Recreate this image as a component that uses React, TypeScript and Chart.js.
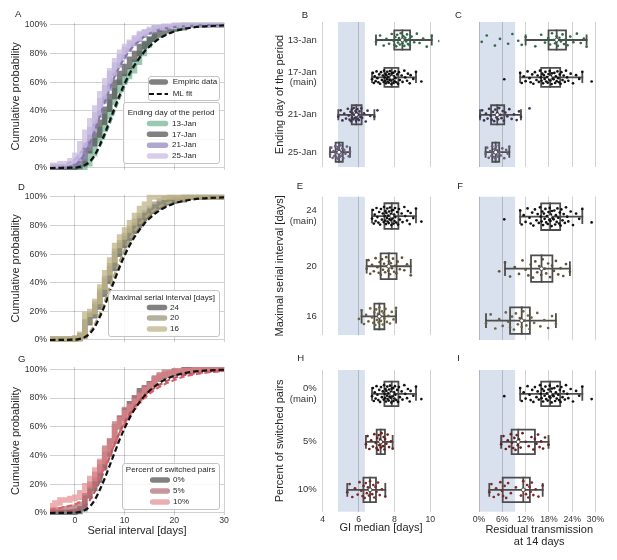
import React, { useEffect, useRef } from "react";
import { Chart, registerables } from "chart.js";

Chart.register(...registerables);

const FONT = '"Liberation Sans", Arial, Helvetica, sans-serif';
Chart.defaults.font.family = FONT;
Chart.defaults.color = "#333";

// ------------------------------------------------------------------ DATA
const serialTicks = [0, 10, 20, 30];
const probTicks = [0, 0.2, 0.4, 0.6, 0.8, 1];
const giTicks = [4, 6, 8, 10];
const residTicks = [0, 6, 12, 18, 24, 30];

const periodCats = [["13-Jan"], ["17-Jan", "(main)"], ["21-Jan"], ["25-Jan"]];
const maxSiCats = [["24", "(main)"], ["20"], ["16"]];
const switchCats = [["0%", "(main)"], ["5%"], ["10%"]];

const periodLegend = ["13-Jan", "17-Jan", "21-Jan", "25-Jan"];
const maxSiLegend = ["24", "20", "16"];
const switchLegend = ["0%", "5%", "10%"];

// empirical CDFs [serial interval, cumulative probability]
const empJan13 = [[-5, 0], [2, 0], [3, 0.03], [4, 0.1], [5, 0.19], [6, 0.27], [7, 0.36], [8, 0.46], [9, 0.54], [10, 0.6], [11, 0.64], [12, 0.68], [13, 0.74], [14, 0.8], [15, 0.86], [16, 0.9], [17, 0.97], [21, 0.98], [22, 1], [30, 1]];
const empJan17 = [[-5, 0], [0, 0.005], [1, 0.01], [2, 0.03], [3, 0.12], [4, 0.17], [5, 0.23], [6, 0.32], [7, 0.41], [8, 0.5], [9, 0.6], [10, 0.66], [11, 0.71], [12, 0.76], [13, 0.8], [14, 0.85], [15, 0.87], [16, 0.9], [17, 0.93], [18, 0.95], [19, 0.96], [20, 0.97], [22, 0.98], [24, 1], [30, 1]];
const empJan21 = [[-5, 0], [-1, 0.01], [0, 0.02], [1, 0.04], [2, 0.08], [3, 0.16], [4, 0.27], [5, 0.37], [6, 0.47], [7, 0.56], [8, 0.66], [9, 0.72], [10, 0.78], [11, 0.83], [12, 0.87], [13, 0.9], [14, 0.93], [15, 0.95], [16, 0.96], [18, 0.98], [20, 0.99], [23, 1], [30, 1]];
const empJan25 = [[-5, 0.01], [-3, 0.02], [-1, 0.03], [0, 0.05], [1, 0.09], [2, 0.17], [3, 0.25], [4, 0.33], [5, 0.42], [6, 0.52], [7, 0.61], [8, 0.68], [9, 0.75], [10, 0.81], [11, 0.85], [12, 0.88], [13, 0.91], [14, 0.94], [15, 0.95], [16, 0.97], [18, 0.98], [20, 0.99], [22, 1], [30, 1]];

// ML fits
const fitJan13 = [[-5, 0], [0, 0.002], [2, 0.015], [3, 0.04], [4, 0.085], [5, 0.15], [6, 0.225], [7, 0.31], [8, 0.4], [9, 0.49], [10, 0.57], [11, 0.645], [12, 0.71], [13, 0.765], [14, 0.81], [15, 0.85], [16, 0.885], [18, 0.93], [20, 0.958], [22, 0.975], [25, 0.99], [30, 0.998]];
const fitJan17 = [[-5, 0], [0, 0.003], [1, 0.008], [2, 0.02], [3, 0.045], [4, 0.09], [5, 0.16], [6, 0.24], [7, 0.33], [8, 0.42], [9, 0.51], [10, 0.59], [11, 0.66], [12, 0.72], [13, 0.77], [14, 0.815], [15, 0.85], [16, 0.88], [17, 0.905], [18, 0.925], [20, 0.955], [22, 0.973], [25, 0.988], [30, 0.997]];
const fitJan21 = [[-5, 0], [-2, 0.005], [0, 0.02], [1, 0.05], [2, 0.1], [3, 0.17], [4, 0.26], [5, 0.36], [6, 0.46], [7, 0.55], [8, 0.64], [9, 0.71], [10, 0.77], [11, 0.82], [12, 0.86], [13, 0.89], [14, 0.92], [16, 0.955], [18, 0.975], [20, 0.986], [25, 0.997], [30, 1]];
const fitJan25 = [[-5, 0.005], [-3, 0.015], [-1, 0.04], [0, 0.06], [1, 0.1], [2, 0.15], [3, 0.22], [4, 0.3], [5, 0.39], [6, 0.49], [7, 0.58], [8, 0.66], [9, 0.73], [10, 0.79], [11, 0.84], [12, 0.87], [13, 0.9], [14, 0.925], [16, 0.96], [18, 0.978], [20, 0.988], [25, 0.997], [30, 1]];

const empMax20 = [[-5, 0], [0, 0.005], [1, 0.01], [2, 0.03], [3, 0.13], [4, 0.18], [5, 0.25], [6, 0.34], [7, 0.43], [8, 0.52], [9, 0.62], [10, 0.68], [11, 0.73], [12, 0.78], [13, 0.83], [14, 0.87], [15, 0.89], [16, 0.92], [17, 0.95], [18, 0.97], [19, 0.99], [20, 1], [30, 1]];
const empMax16 = [[-5, 0], [0, 0.005], [1, 0.01], [2, 0.04], [3, 0.18], [4, 0.2], [5, 0.27], [6, 0.37], [7, 0.47], [8, 0.56], [9, 0.66], [10, 0.72], [11, 0.77], [12, 0.82], [13, 0.87], [14, 0.92], [15, 0.95], [16, 1], [30, 1]];
const fitMax20 = [[-5, 0], [0, 0.003], [2, 0.02], [3, 0.05], [4, 0.1], [5, 0.17], [6, 0.26], [7, 0.35], [8, 0.44], [9, 0.53], [10, 0.61], [11, 0.68], [12, 0.74], [13, 0.79], [14, 0.835], [15, 0.87], [16, 0.9], [18, 0.94], [20, 0.965], [22, 0.98], [25, 0.992], [30, 0.998]];
const fitMax16 = [[-5, 0], [0, 0.004], [2, 0.025], [3, 0.055], [4, 0.11], [5, 0.18], [6, 0.27], [7, 0.37], [8, 0.46], [9, 0.55], [10, 0.63], [11, 0.7], [12, 0.76], [13, 0.81], [14, 0.85], [15, 0.885], [16, 0.91], [18, 0.95], [20, 0.97], [22, 0.983], [25, 0.993], [30, 0.998]];

const empSwitch5 = [[-5, 0.01], [-2, 0.02], [0, 0.03], [1, 0.04], [2, 0.06], [3, 0.12], [4, 0.2], [5, 0.27], [6, 0.35], [7, 0.45], [8, 0.5], [9, 0.62], [10, 0.66], [11, 0.72], [12, 0.76], [13, 0.8], [14, 0.84], [15, 0.87], [16, 0.9], [17, 0.94], [18, 0.96], [20, 0.98], [22, 0.99], [25, 1], [30, 1]];
const empSwitch10 = [[-5, 0.03], [-4, 0.05], [-3, 0.07], [-1, 0.09], [0, 0.1], [1, 0.11], [2, 0.14], [3, 0.19], [4, 0.24], [5, 0.3], [6, 0.36], [7, 0.44], [8, 0.5], [9, 0.6], [10, 0.65], [11, 0.7], [12, 0.74], [13, 0.78], [14, 0.82], [15, 0.86], [16, 0.89], [17, 0.93], [19, 0.96], [21, 0.98], [24, 0.99], [27, 1], [30, 1]];
const fitSwitch5 = [[-5, 0.005], [-2, 0.012], [0, 0.02], [1, 0.03], [2, 0.05], [3, 0.09], [4, 0.15], [5, 0.22], [6, 0.3], [7, 0.39], [8, 0.48], [9, 0.56], [10, 0.63], [11, 0.69], [12, 0.74], [13, 0.78], [14, 0.82], [15, 0.85], [16, 0.87], [18, 0.91], [20, 0.94], [22, 0.96], [25, 0.975], [30, 0.99]];
const fitSwitch10 = [[-5, 0.02], [-3, 0.035], [-1, 0.05], [0, 0.06], [1, 0.075], [2, 0.1], [3, 0.14], [4, 0.19], [5, 0.25], [6, 0.32], [7, 0.4], [8, 0.48], [9, 0.56], [10, 0.62], [11, 0.68], [12, 0.73], [13, 0.77], [14, 0.8], [15, 0.83], [16, 0.855], [18, 0.895], [20, 0.925], [22, 0.95], [25, 0.97], [30, 0.99]];

// box statistics [whisker low, q1, median, q3, whisker high]
const giPeriodStats = [[6.97, 7.99, 8.44, 8.87, 10.08], [6.75, 7.44, 7.85, 8.22, 9.2], [4.87, 5.62, 5.87, 6.17, 6.88], [4.41, 4.72, 4.91, 5.12, 5.52]];
const residPeriodStats = [[12.0, 17.9, 20.0, 22.4, 27.7], [10.6, 16.0, 18.3, 20.9, 26.6], [0.26, 3.1, 4.7, 6.5, 10.8], [1.7, 3.4, 4.3, 5.2, 7.8]];
const giMaxStats = [[6.75, 7.44, 7.85, 8.22, 9.2], [6.45, 7.23, 7.68, 8.12, 8.91], [6.17, 6.88, 7.16, 7.44, 8.09]];
const residMaxStats = [[10.6, 16.0, 18.3, 20.9, 26.6], [6.7, 13.4, 16.1, 18.9, 23.4], [1.8, 8.0, 11.0, 13.1, 19.8]];
const giSwitchStats = [[6.75, 7.44, 7.85, 8.22, 9.2], [6.41, 7.01, 7.23, 7.47, 7.9], [5.37, 6.27, 6.64, 6.97, 7.49]];
const residSwitchStats = [[10.6, 16.0, 18.3, 20.9, 26.6], [5.7, 8.4, 10.1, 14.4, 17.9], [2.65, 6.1, 11.4, 13.1, 16.4]];

// individual bootstrap estimates (strip points)
const giMainPts = [6.75, 6.8, 6.85, 6.9, 6.95, 7.0, 7.05, 7.1, 7.15, 7.2, 7.25, 7.3, 7.35, 7.4, 7.42, 7.45, 7.48, 7.5, 7.53, 7.55, 7.58, 7.6, 7.62, 7.65, 7.68, 7.7, 7.72, 7.75, 7.78, 7.8, 7.83, 7.85, 7.88, 7.9, 7.93, 7.95, 7.98, 8.0, 8.03, 8.05, 8.1, 8.15, 8.2, 8.25, 8.3, 8.4, 8.45, 8.55, 8.6, 8.7, 8.75, 8.85, 8.9, 9.05, 9.2, 9.5];
const residMainPts = [6.5, 10.6, 11.0, 11.5, 12.0, 12.5, 13.0, 13.3, 13.7, 14.0, 14.4, 14.8, 15.1, 15.4, 15.7, 15.9, 16.1, 16.3, 16.5, 16.7, 16.9, 17.1, 17.3, 17.5, 17.7, 17.9, 18.1, 18.2, 18.4, 18.5, 18.7, 18.8, 19.0, 19.2, 19.4, 19.6, 19.8, 20.0, 20.2, 20.4, 20.6, 20.8, 21.0, 21.2, 21.5, 21.8, 22.1, 22.4, 22.7, 23.0, 23.6, 24.2, 25.0, 25.8, 26.6, 29.0];
const giJan13Pts = [6.97, 7.2, 7.4, 7.55, 7.7, 7.85, 7.95, 8.0, 8.05, 8.1, 8.15, 8.2, 8.25, 8.3, 8.35, 8.4, 8.45, 8.5, 8.55, 8.6, 8.65, 8.7, 8.75, 8.8, 8.85, 8.95, 9.1, 9.25, 9.4, 9.6, 9.8, 10.08, 10.5];
const giJan21Pts = [4.87, 5.0, 5.1, 5.2, 5.3, 5.4, 5.45, 5.5, 5.55, 5.58, 5.62, 5.64, 5.66, 5.7, 5.73, 5.76, 5.8, 5.83, 5.86, 5.88, 5.9, 5.93, 5.96, 6.0, 6.02, 6.05, 6.1, 6.15, 6.2, 6.3, 6.4, 6.5, 6.65, 6.88, 7.05];
const giJan25Pts = [4.41, 4.48, 4.55, 4.6, 4.65, 4.7, 4.73, 4.76, 4.8, 4.83, 4.86, 4.9, 4.93, 4.96, 5.0, 5.03, 5.06, 5.1, 5.14, 5.2, 5.27, 5.35, 5.45, 5.52];
const residJan13Pts = [0.7, 2.0, 4.1, 5.4, 7.5, 8.6, 10.1, 11.0, 12.0, 14.5, 16.0, 17.0, 17.8, 18.3, 18.8, 19.2, 19.6, 20.0, 20.3, 20.7, 21.1, 21.5, 21.9, 22.3, 22.8, 23.5, 24.3, 25.2, 26.2, 27.0, 27.7];
const residJan21Pts = [0.26, 0.8, 1.3, 1.8, 2.2, 2.6, 3.0, 3.3, 3.6, 3.9, 4.2, 4.5, 4.7, 4.9, 5.2, 5.5, 5.8, 6.1, 6.4, 6.8, 7.3, 7.8, 8.4, 9.0, 9.7, 10.3, 10.8, 13.0];
const residJan25Pts = [1.7, 2.1, 2.5, 2.9, 3.2, 3.4, 3.6, 3.8, 4.0, 4.2, 4.35, 4.5, 4.7, 4.9, 5.1, 5.3, 5.6, 6.0, 6.5, 7.0, 7.4, 7.8];
const giMax20Pts = [6.45, 6.55, 6.65, 6.75, 6.85, 6.95, 7.05, 7.12, 7.18, 7.24, 7.3, 7.36, 7.42, 7.48, 7.54, 7.6, 7.65, 7.7, 7.75, 7.8, 7.86, 7.92, 7.98, 8.04, 8.1, 8.18, 8.3, 8.42, 8.55, 8.7, 8.91];
const giMax16Pts = [6.02, 6.17, 6.3, 6.42, 6.55, 6.65, 6.75, 6.82, 6.88, 6.93, 6.98, 7.03, 7.08, 7.12, 7.16, 7.2, 7.25, 7.3, 7.35, 7.4, 7.44, 7.5, 7.58, 7.66, 7.75, 7.85, 7.95, 8.09];
const residMax20Pts = [5.2, 6.7, 8.0, 9.2, 10.3, 11.2, 12.0, 12.7, 13.3, 13.9, 14.5, 15.0, 15.5, 16.0, 16.4, 16.9, 17.3, 17.8, 18.3, 18.8, 19.3, 19.8, 20.4, 21.0, 21.7, 22.4, 23.4];
const residMax16Pts = [1.8, 3.0, 4.2, 5.2, 6.1, 6.9, 7.5, 8.0, 8.5, 9.0, 9.5, 10.0, 10.5, 11.0, 11.4, 11.8, 12.2, 12.6, 13.0, 13.5, 14.2, 15.0, 15.8, 16.8, 17.8, 18.8, 19.8];
const giSwitch5Pts = [6.41, 6.5, 6.6, 6.7, 6.8, 6.88, 6.95, 7.0, 7.04, 7.08, 7.12, 7.16, 7.2, 7.24, 7.28, 7.32, 7.36, 7.4, 7.44, 7.48, 7.55, 7.62, 7.7, 7.8, 7.9];
const giSwitch10Pts = [5.37, 5.5, 5.65, 5.8, 5.95, 6.05, 6.15, 6.22, 6.28, 6.34, 6.4, 6.46, 6.52, 6.58, 6.64, 6.7, 6.76, 6.82, 6.88, 6.94, 7.0, 7.08, 7.18, 7.3, 7.49];
const residSwitch5Pts = [5.7, 6.3, 6.9, 7.4, 7.8, 8.2, 8.5, 8.8, 9.1, 9.4, 9.7, 10.0, 10.3, 10.7, 11.2, 12.0, 12.8, 13.5, 14.0, 14.4, 14.8, 15.2, 15.6, 16.0, 16.5, 17.0, 17.9];
const residSwitch10Pts = [2.65, 3.2, 3.8, 4.4, 5.0, 5.5, 5.9, 6.2, 6.6, 7.0, 7.5, 8.2, 9.5, 10.8, 11.4, 11.8, 12.1, 12.4, 12.7, 13.0, 13.3, 13.6, 14.0, 14.6, 15.3, 16.4];

// vertical jitter of the strip points (fraction of category spacing)
const jitterOffsets = [0.05, -0.12, 0.15, -0.03, 0.1, -0.16, 0.02, 0.13, -0.08, 0.17, -0.14, 0.07, -0.05, 0.12, -0.18, 0.0, 0.09, -0.1, 0.16, -0.06, 0.04, -0.15, 0.11, -0.01, 0.14, -0.09, 0.06, -0.17, 0.08, -0.04, 0.18, -0.11, 0.03];

// shaded reference ranges
const giBand = [4.85, 6.35];
const residBand = [0, 9.3];

// ------------------------------------------------------------------ STYLE
const GRID = "rgba(0,0,0,0.18)";
const BAND = "#d8e1ed";
const BOX_EDGE = "#4d4d4d";
const TEXT = "#262626";

const periodColors = ["rgba(100,170,135,0.65)", "rgba(80,80,80,0.72)", "rgba(150,138,190,0.75)", "rgba(205,193,228,0.8)"];
const periodFitColors = ["#4f9a77", "#111111", "#8577ad", "#bdb0d8"];
const maxColors = ["rgba(80,80,80,0.72)", "rgba(150,146,118,0.72)", "rgba(192,182,138,0.78)"];
const maxFitColors = ["#111111", "#8a8260", "#b0a57a"];
const switchColors = ["rgba(80,80,80,0.72)", "rgba(175,110,115,0.72)", "rgba(228,135,140,0.68)"];
const switchFitColors = ["#111111", "#b35b63", "#d9626a"];

const periodPtColors = ["#2f6a4c", "#111111", "#3f3552", "#6b5f80"];
const maxPtColors = ["#111111", "#5c5238", "#6e6440"];
const switchPtColors = ["#111111", "#6a2020", "#7a2a2a"];

const BOX_HALF = 0.255;
const CAP_HALF = 0.125;

// ------------------------------------------------------------------ HELPERS
const toXY = (pairs: number[][]) => pairs.map(([x, y]) => ({ x, y }));
const ordered = (ds: any[]) => ds.map((d, i) => ({ ...d, order: -i }));

const stepLine = (pairs: number[][], color: string) => ({
  data: toXY(pairs), stepped: "after", borderColor: color, borderWidth: 5.5,
  pointRadius: 0, borderJoinStyle: "miter", fill: false,
});
const fitLine = (pairs: number[][], color: string) => ({
  data: toXY(pairs), borderColor: color, borderWidth: 2.2, borderDash: [5.5, 3],
  pointRadius: 0, cubicInterpolationMode: "monotone", fill: false,
});

function boxDatasets(stats: number[][], pts: number[][], colors: string[]) {
  const edges: any[] = [];
  const dots: any[] = [];
  const marks: any[] = [];
  const seg = (p: number[][]) => ({
    data: toXY(p), borderColor: BOX_EDGE, borderWidth: 1.8, pointRadius: 0,
    borderJoinStyle: "miter", borderCapStyle: "square", fill: false,
  });
  stats.forEach(([lo, q1, med, q3, hi], i) => {
    edges.push(seg([[lo, i], [hi, i]]));
    edges.push(seg([[lo, i - CAP_HALF], [lo, i + CAP_HALF]]));
    edges.push(seg([[hi, i - CAP_HALF], [hi, i + CAP_HALF]]));
    edges.push(seg([[q1, i - BOX_HALF], [q3, i - BOX_HALF], [q3, i + BOX_HALF], [q1, i + BOX_HALF], [q1, i - BOX_HALF]]));
    edges.push(seg([[med, i - BOX_HALF], [med, i + BOX_HALF]]));
    dots.push({
      data: pts[i].map((x, k) => ({ x, y: i + jitterOffsets[k % jitterOffsets.length] })),
      showLine: false, pointRadius: 1.35, pointBackgroundColor: colors[i], pointBorderWidth: 0,
    });
    marks.push({
      data: [{ x: med, y: i }], showLine: false, pointRadius: 1.9,
      pointBackgroundColor: "#ffffff", pointBorderColor: "#333333", pointBorderWidth: 0.8,
    });
  });
  return ordered([...edges, ...dots, ...marks]);
}

type LegendItem = { label: string; y: number; color: string; width: number; dash?: number[] };
type LegendBox = { x: number; y: number; w: number; h: number; title?: string; titleY?: number; sx1: number; sx2: number; tx: number; items: LegendItem[] };

function decoPlugin(letter: string, lx: number, ly: number, legends: LegendBox[], band?: number[]) {
  return {
    id: "deco",
    beforeDraw(chart: any) {
      if (!band) return;
      const { ctx, chartArea: a, scales } = chart;
      const x1 = scales.x.getPixelForValue(band[0]);
      const x2 = scales.x.getPixelForValue(band[1]);
      ctx.save();
      ctx.fillStyle = BAND;
      ctx.fillRect(x1, a.top, x2 - x1, a.bottom - a.top);
      ctx.restore();
    },
    afterDraw(chart: any) {
      const ctx = chart.ctx;
      ctx.save();
      ctx.fillStyle = TEXT;
      ctx.textBaseline = "middle";
      ctx.textAlign = "left";
      ctx.font = `9.5px ${FONT}`;
      ctx.fillText(letter, lx, ly);
      for (const lg of legends) {
        ctx.beginPath();
        if ((ctx as any).roundRect) (ctx as any).roundRect(lg.x + 0.5, lg.y + 0.5, lg.w, lg.h, 2.5);
        else ctx.rect(lg.x + 0.5, lg.y + 0.5, lg.w, lg.h);
        ctx.fillStyle = "rgba(255,255,255,0.85)";
        ctx.fill();
        ctx.strokeStyle = "#c4c4c4";
        ctx.lineWidth = 1;
        ctx.stroke();
        ctx.font = `8px ${FONT}`;
        ctx.fillStyle = TEXT;
        if (lg.title) {
          ctx.textAlign = "center";
          ctx.fillText(lg.title, lg.x + lg.w / 2, lg.titleY);
        }
        ctx.textAlign = "left";
        for (const it of lg.items) {
          ctx.beginPath();
          if (it.dash) {
            ctx.moveTo(lg.sx1 - 2.7, it.y);
            ctx.lineTo(lg.sx2 + 2.7, it.y);
            ctx.setLineDash(it.dash);
            ctx.lineCap = "butt";
          } else {
            ctx.moveTo(lg.sx1, it.y);
            ctx.lineTo(lg.sx2, it.y);
            ctx.setLineDash([]);
            ctx.lineCap = "round";
          }
          ctx.strokeStyle = it.color;
          ctx.lineWidth = it.width;
          ctx.stroke();
          ctx.setLineDash([]);
          ctx.fillStyle = TEXT;
          ctx.fillText(it.label, lg.tx, it.y);
        }
      }
      ctx.restore();
    },
  };
}

const baseOptions = {
  responsive: false,
  animation: false,
  events: [],
  plugins: { legend: { display: false }, tooltip: { enabled: false } },
};

function axisTitle(text: any, padTop: number, padBottom: number, lineHeight = 1.2) {
  return { display: true, text, color: TEXT, font: { size: 11, lineHeight }, padding: { top: padTop, bottom: padBottom } };
}

function cdfConfig(o: any) {
  return {
    type: "line",
    data: { datasets: ordered(o.datasets) },
    options: {
      ...baseOptions,
      layout: { padding: { left: 0, top: o.padTop, right: 16, bottom: 0 } },
      scales: {
        x: {
          type: "linear", min: -5, max: 30,
          afterBuildTicks: (s: any) => { s.ticks = serialTicks.map((v) => ({ value: v })); },
          afterFit: (s: any) => { s.height = o.xHeight; },
          grid: { color: GRID, drawTicks: false },
          border: { display: false },
          ticks: { display: o.showX, padding: 0, color: "#333", font: { size: 8.7 }, autoSkip: false, maxRotation: 0 },
          title: o.xTitle ? axisTitle(o.xTitle, 0, o.xTitlePad) : { display: false },
        },
        y: {
          type: "linear", min: -0.014, max: 1.016,
          afterBuildTicks: (s: any) => { s.ticks = probTicks.map((v) => ({ value: v })); },
          afterFit: (s: any) => { s.width = 50; },
          grid: { color: GRID, drawTicks: false },
          border: { display: false },
          ticks: { padding: 3, color: "#333", font: { size: 8.7 }, callback: (v: number) => `${Math.round(v * 100)}%` },
          title: axisTitle("Cumulative probability", 9.4, 0),
        },
      },
    },
    plugins: [decoPlugin(o.letter, o.lx, o.ly, o.legends)],
  };
}

function boxConfig(o: any) {
  return {
    type: "line",
    data: { datasets: boxDatasets(o.stats, o.pts, o.colors) },
    options: {
      ...baseOptions,
      layout: { padding: { left: 0, top: o.padTop, right: o.padRight, bottom: 0 } },
      scales: {
        x: {
          type: "linear", min: o.xMin, max: o.xMax,
          afterBuildTicks: (s: any) => { s.ticks = o.xTicks.map((v: number) => ({ value: v })); },
          afterFit: (s: any) => { s.height = o.xHeight; },
          grid: { color: GRID, drawTicks: false },
          border: { display: false },
          ticks: { display: o.showX, padding: 2.8, color: "#333", font: { size: 8.7 }, autoSkip: false, maxRotation: 0, callback: o.xFmt },
          title: o.xTitle ? axisTitle(o.xTitle, 0, o.xTitlePad, o.xTitleLH || 1.2) : { display: false },
        },
        y: {
          type: "linear", min: o.yMin, max: o.yMax, reverse: true,
          afterBuildTicks: (s: any) => { s.ticks = o.stats.map((_: any, i: number) => ({ value: i })); },
          afterFit: (s: any) => { s.width = o.yWidth; },
          grid: { display: false, drawTicks: false },
          border: { display: false },
          ticks: {
            display: !!o.cats, padding: 6, color: "#333", font: { size: 9.5, lineHeight: 1.15 }, autoSkip: false,
            callback: (v: number) => (o.cats ? o.cats[Math.round(v)] : ""),
          },
          title: o.yTitle ? axisTitle(o.yTitle, 33.4, 0) : { display: false },
        },
      },
    },
    plugins: [decoPlugin(o.letter, o.lx, o.ly, [], o.band)],
  };
}

const giFmt = (v: number) => `${v}`;
const residFmt = (v: number) => `${v}%`;

const legendItems = (labels: string[], colors: string[], ys: number[]) =>
  labels.map((label, i) => ({ label, y: ys[i], color: colors[i], width: 5.5 }));

// ------------------------------------------------------------------ PANELS
const panels = [
  {
    key: "A", left: 0, top: 0, w: 240, h: 180,
    make: () => cdfConfig({
      datasets: [
        stepLine(empJan13, periodColors[0]), stepLine(empJan17, periodColors[1]),
        stepLine(empJan21, periodColors[2]), stepLine(empJan25, periodColors[3]),
        fitLine(fitJan13, periodFitColors[0]), fitLine(fitJan21, periodFitColors[2]),
        fitLine(fitJan25, periodFitColors[3]), fitLine(fitJan17, periodFitColors[1]),
      ],
      padTop: 22.7, xHeight: 10, showX: false, letter: "A", lx: 15, ly: 14.5,
      legends: [
        { x: 148, y: 76, w: 71, h: 24, sx1: 151.7, sx2: 165.3, tx: 172.7, items: [
          { label: "Empiric data", y: 82, color: "rgba(80,80,80,0.72)", width: 5.5 },
          { label: "ML fit", y: 94, color: "#111111", width: 2.2, dash: [5, 2.8] },
        ] },
        { x: 123, y: 102, w: 96, h: 61, title: "Ending day of the period", titleY: 113, sx1: 149.5, sx2: 165.5, tx: 172,
          items: legendItems(periodLegend, periodColors, [123.5, 134.3, 145.2, 156]) },
      ],
    }),
  },
  {
    key: "D", left: 0, top: 180, w: 240, h: 172,
    make: () => cdfConfig({
      datasets: [
        stepLine(empJan17, maxColors[0]), stepLine(empMax20, maxColors[1]), stepLine(empMax16, maxColors[2]),
        fitLine(fitMax20, maxFitColors[1]), fitLine(fitMax16, maxFitColors[2]), fitLine(fitJan17, maxFitColors[0]),
      ],
      padTop: 14.7, xHeight: 10, showX: false, letter: "D", lx: 18, ly: 7,
      legends: [
        { x: 108, y: 110, w: 111, h: 46, title: "Maximal serial interval [days]", titleY: 117.5, sx1: 149.5, sx2: 164.5, tx: 170,
          items: legendItems(maxSiLegend, maxColors, [127.5, 138, 149]) },
      ],
    }),
  },
  {
    key: "G", left: 0, top: 352, w: 240, h: 208,
    make: () => cdfConfig({
      datasets: [
        stepLine(empJan17, switchColors[0]), stepLine(empSwitch5, switchColors[1]), stepLine(empSwitch10, switchColors[2]),
        fitLine(fitSwitch5, switchFitColors[1]), fitLine(fitSwitch10, switchFitColors[2]), fitLine(fitJan17, switchFitColors[0]),
      ],
      padTop: 15, xHeight: 45, showX: true, xTitle: "Serial interval [days]", xTitlePad: 22.9,
      letter: "G", lx: 18, ly: 7,
      legends: [
        { x: 122, y: 111, w: 97, h: 46, title: "Percent of switched pairs", titleY: 117.5, sx1: 152.7, sx2: 167.3, tx: 173,
          items: legendItems(switchLegend, switchColors, [128, 139, 150]) },
      ],
    }),
  },
  {
    key: "B", left: 240, top: 0, w: 210, h: 180,
    make: () => boxConfig({
      stats: giPeriodStats, pts: [giJan13Pts, giMainPts, giJan21Pts, giJan25Pts], colors: periodPtColors,
      cats: periodCats, yTitle: "Ending day of the period",
      xMin: 4, xMax: 10.5, xTicks: giTicks, xFmt: giFmt, showX: false, band: giBand,
      yMin: -0.481, yMax: 3.396, padTop: 22, padRight: 10.7, yWidth: 82.7, xHeight: 13,
      letter: "B", lx: 61.7, ly: 15,
    }),
  },
  {
    key: "C", left: 450, top: 0, w: 167, h: 180,
    make: () => boxConfig({
      stats: residPeriodStats, pts: [residJan13Pts, residMainPts, residJan21Pts, residJan25Pts], colors: periodPtColors,
      xMin: 0, xMax: 31, xTicks: residTicks, xFmt: residFmt, showX: false, band: residBand,
      yMin: -0.481, yMax: 3.396, padTop: 22, padRight: 17.6, yWidth: 29, xHeight: 13,
      letter: "C", lx: 5, ly: 15,
    }),
  },
  {
    key: "E", left: 240, top: 180, w: 210, h: 172,
    make: () => boxConfig({
      stats: giMaxStats, pts: [giMainPts, giMax20Pts, giMax16Pts], colors: maxPtColors,
      cats: maxSiCats, yTitle: "Maximal serial interval [days]",
      xMin: 4, xMax: 10.5, xTicks: giTicks, xFmt: giFmt, showX: false, band: giBand,
      yMin: -0.385, yMax: 2.371, padTop: 16.7, padRight: 10.7, yWidth: 82.7, xHeight: 12,
      letter: "E", lx: 56.7, ly: 6.7,
    }),
  },
  {
    key: "F", left: 450, top: 180, w: 167, h: 172,
    make: () => boxConfig({
      stats: residMaxStats, pts: [residMainPts, residMax20Pts, residMax16Pts], colors: maxPtColors,
      xMin: 0, xMax: 31, xTicks: residTicks, xFmt: residFmt, showX: false, band: residBand,
      yMin: -0.385, yMax: 2.371, padTop: 16.7, padRight: 17.6, yWidth: 29, xHeight: 12,
      letter: "F", lx: 7.3, ly: 6.7,
    }),
  },
  {
    key: "H", left: 240, top: 352, w: 210, h: 208,
    make: () => boxConfig({
      stats: giSwitchStats, pts: [giMainPts, giSwitch5Pts, giSwitch10Pts], colors: switchPtColors,
      cats: switchCats, yTitle: "Percent of switched pairs",
      xMin: 4, xMax: 10.5, xTicks: giTicks, xFmt: giFmt, showX: true, band: giBand,
      xTitle: "GI median [days]", xTitlePad: 25.4,
      yMin: -0.496, yMax: 2.456, padTop: 18, padRight: 10.7, yWidth: 82.7, xHeight: 48.3,
      letter: "H", lx: 57.3, ly: 6.8,
    }),
  },
  {
    key: "I", left: 450, top: 352, w: 167, h: 208,
    make: () => boxConfig({
      stats: residSwitchStats, pts: [residMainPts, residSwitch5Pts, residSwitch10Pts], colors: switchPtColors,
      xMin: 0, xMax: 31, xTicks: residTicks, xFmt: residFmt, showX: true, band: residBand,
      xTitle: ["Residual transmission", "at 14 days"], xTitlePad: 12.35, xTitleLH: 1.07,
      yMin: -0.496, yMax: 2.456, padTop: 18, padRight: 17.6, yWidth: 29, xHeight: 48.3,
      letter: "I", lx: 7.3, ly: 6.8,
    }),
  },
];

function PanelCanvas({ p }: { p: any }) {
  const ref = useRef<HTMLCanvasElement>(null);
  useEffect(() => {
    if (!ref.current) return;
    const chart = new Chart(ref.current, p.make());
    return () => chart.destroy();
  }, []);
  return (
    <canvas
      ref={ref}
      width={p.w}
      height={p.h}
      style={{ position: "absolute", left: p.left, top: p.top, width: p.w, height: p.h, display: "block" }}
    />
  );
}

export default function App() {
  return (
    <div style={{ position: "absolute", left: 0, top: 0, width: 617, height: 560, background: "#ffffff", overflow: "hidden" }}>
      {panels.map((p) => (
        <PanelCanvas key={p.key} p={p} />
      ))}
    </div>
  );
}
